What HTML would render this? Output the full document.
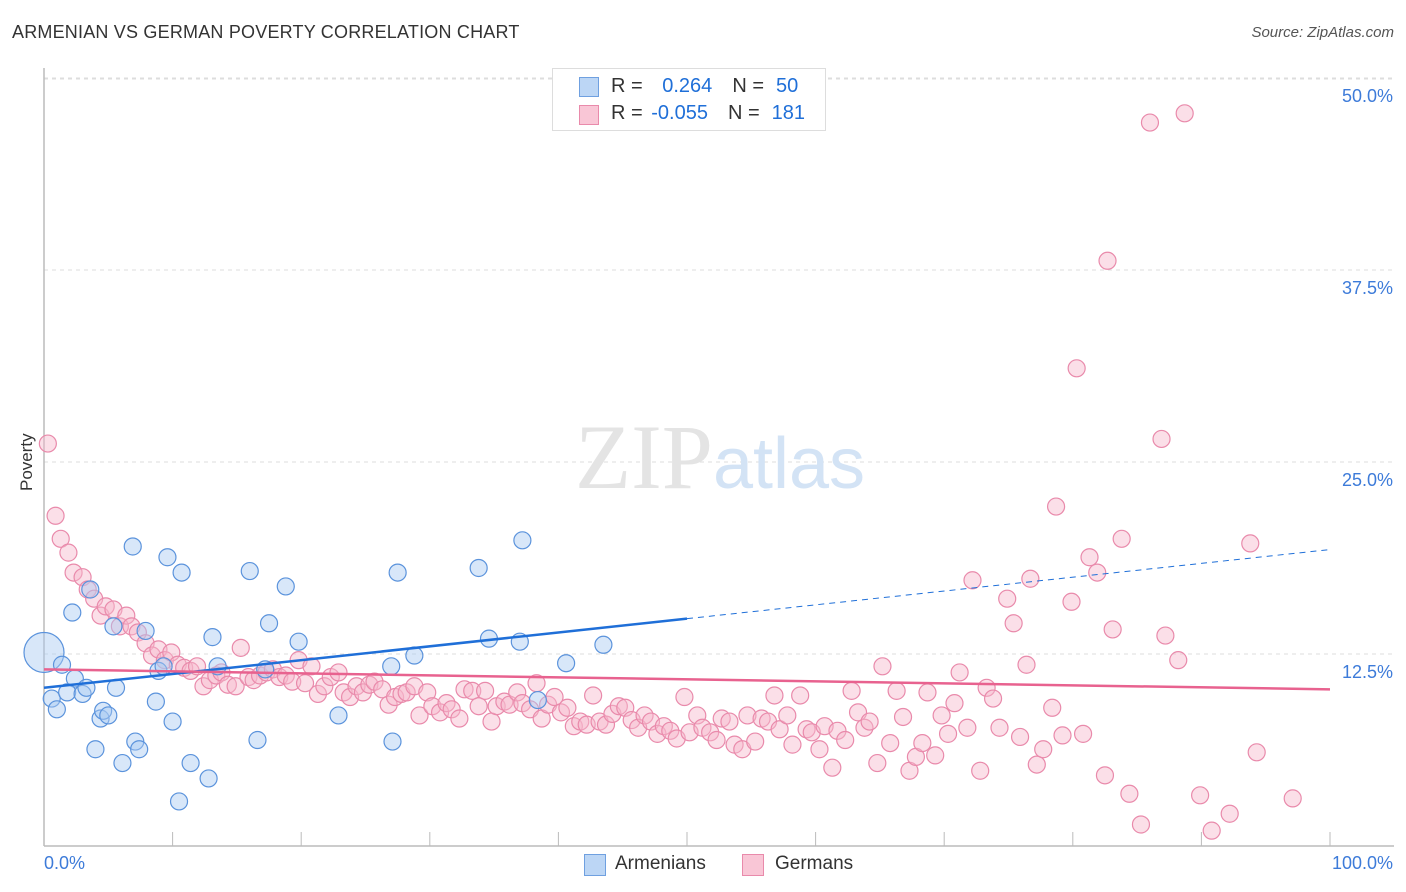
<!DOCTYPE html>
<html><head><meta charset="utf-8"><style>
body{margin:0;background:#fff;font-family:"Liberation Sans",sans-serif;}
#wrap{position:relative;width:1406px;height:892px;overflow:hidden;}
.t{position:absolute;white-space:nowrap;}
</style></head><body>
<div id="wrap">
<div class="t" style="left:12px;top:22px;font-size:18px;color:#333;letter-spacing:0.2px">ARMENIAN VS GERMAN POVERTY CORRELATION CHART</div>
<div class="t" style="right:12px;top:24px;font-size:15px;color:#555;font-style:italic">Source: ZipAtlas.com</div>
<svg id="chart" width="1406" height="892" style="position:absolute;left:0;top:0"></svg>
</div>
<script>
const xTicks=[0,10,20,30,40,50,60,70,80,90,100];
const yTicks=[12.5,25,37.5,50];
const armX=[0,0.6,1.0,1.4,2.2,2.4,1.8,3.0,3.3,3.6,4.0,4.4,4.6,5.0,5.4,5.6,6.1,6.9,7.1,7.4,7.9,8.7,8.9,9.3,9.6,10.0,10.5,10.7,11.4,12.8,13.1,13.5,16.0,16.6,17.5,18.8,19.8,22.9,27.0,27.1,27.5,28.8,33.8,34.6,37.0,37.2,40.6,43.5,38.4,17.2];
const armY=[12.6,9.6,8.9,11.8,15.2,10.9,10.0,9.9,10.3,16.7,6.3,8.3,8.8,8.5,14.3,10.3,5.4,19.5,6.8,6.3,14.0,9.4,11.4,11.7,18.8,8.1,2.9,17.8,5.4,4.4,13.6,11.7,17.9,6.9,14.5,16.9,13.3,8.5,11.7,6.8,17.8,12.4,18.1,13.5,13.3,19.9,11.9,13.1,9.5,11.5];
const gerX=[0.3,0.9,1.3,1.9,2.3,3.0,3.4,3.9,4.4,4.8,5.4,5.9,6.4,6.8,7.3,7.9,8.4,8.9,9.4,9.9,10.4,10.9,11.4,11.9,12.4,12.9,13.4,13.8,14.3,14.9,15.3,15.9,16.3,16.8,17.3,17.8,18.3,18.8,19.3,19.8,20.3,20.8,21.3,21.8,22.3,22.9,23.3,23.8,24.3,24.8,25.3,25.7,26.3,26.8,27.3,27.8,28.2,28.8,29.2,29.8,30.2,30.8,31.3,31.7,32.3,32.7,33.3,33.8,34.3,34.8,35.2,35.8,36.2,36.8,37.2,37.8,38.3,38.7,39.2,39.7,40.2,40.7,41.2,41.7,42.2,42.7,43.2,43.7,44.2,44.7,45.2,45.7,46.2,46.7,47.2,47.7,48.2,48.7,49.2,49.8,50.2,50.8,51.2,51.8,52.3,52.7,53.3,53.7,54.3,54.7,55.3,55.8,56.3,56.8,57.2,57.8,58.2,58.8,59.3,59.7,60.3,60.7,61.3,61.7,62.3,62.8,63.3,63.8,64.2,64.8,65.2,65.8,66.3,66.8,67.3,67.8,68.3,68.7,69.3,69.8,70.3,70.8,71.2,71.8,72.2,72.8,73.3,73.8,74.3,74.9,75.4,75.9,76.4,76.7,77.2,77.7,78.4,78.7,79.2,79.9,80.3,80.8,81.3,81.9,82.5,82.7,83.1,83.8,84.4,85.3,86.0,86.9,87.2,88.2,88.7,89.9,90.8,92.2,93.8,94.3,97.1];
const gerY=[26.2,21.5,20.0,19.1,17.8,17.5,16.7,16.1,15.0,15.6,15.4,14.3,15.0,14.3,13.9,13.2,12.4,12.8,12.1,12.6,11.8,11.6,11.4,11.7,10.4,10.8,11.1,11.3,10.5,10.4,12.9,11.0,10.8,11.1,11.3,11.5,11.0,11.1,10.7,12.1,10.6,11.7,9.9,10.4,11.0,11.3,10.0,9.7,10.4,10.0,10.5,10.7,10.2,9.2,9.7,9.9,10.0,10.4,8.5,10.0,9.1,8.7,9.3,8.9,8.3,10.2,10.1,9.1,10.1,8.1,9.1,9.4,9.2,10.0,9.3,8.9,10.6,8.3,9.2,9.7,8.7,9.0,7.8,8.1,7.9,9.8,8.1,7.9,8.6,9.1,9.0,8.2,7.7,8.5,8.1,7.3,7.8,7.5,7.0,9.7,7.4,8.5,7.7,7.4,6.9,8.3,8.1,6.6,6.3,8.5,6.8,8.3,8.1,9.8,7.6,8.5,6.6,9.8,7.6,7.4,6.3,7.8,5.1,7.5,6.9,10.1,8.7,7.7,8.1,5.4,11.7,6.7,10.1,8.4,4.9,5.8,6.7,10.0,5.9,8.5,7.3,9.3,11.3,7.7,17.3,4.9,10.3,9.6,7.7,16.1,14.5,7.1,11.8,17.4,5.3,6.3,9.0,22.1,7.2,15.9,31.1,7.3,18.8,17.8,4.6,38.1,14.1,20.0,3.4,1.4,47.1,26.5,13.7,12.1,47.7,3.3,1.0,2.1,19.7,6.1,3.1];
const armTrend=[10.3,19.3];
const gerTrend=[11.5,10.2];
const NS='http://www.w3.org/2000/svg';
const svg=document.getElementById('chart');
const X0=44,X1=1330,Y0=846,YS=15.36;
const sx=v=>X0+v*(X1-X0)/100;
const sy=v=>Y0-v*YS;
function mk(tag,attrs,parent){const e=document.createElementNS(NS,tag);for(const k in attrs)e.setAttribute(k,attrs[k]);(parent||svg).appendChild(e);return e;}
// gridlines
yTicks.forEach(t=>{
 const l=mk('line',{x1:X0,x2:1394,y1:sy(t),y2:sy(t),stroke:'#ddd','stroke-dasharray':'4,4'});
 
 
 const tx=mk('text',{x:1393,y:sy(t)+24,'text-anchor':'end','font-size':18,fill:'#3d7bd9','font-family':'Liberation Sans'});
 tx.textContent=t.toFixed(1)+'%';
 
 
});
mk('line',{x1:X0,x2:1394,y1:79,y2:79,stroke:'#ddd','stroke-dasharray':'4,4'});
// axes
const ya=mk('line',{x1:X0,x2:X0,y1:68,y2:846,stroke:'#bbb','stroke-width':1.5});


const xa=mk('line',{x1:X0,x2:1394,y1:846,y2:846,stroke:'#bbb','stroke-width':1.5});


xTicks.forEach(t=>{const l=mk('line',{x1:sx(t),x2:sx(t),y1:832,y2:846,stroke:'#bbb'});
 
 });
// watermark
const wm=mk('text',{x:720,y:488,'text-anchor':'middle','font-size':92,fill:'#e4e4e4','font-family':'Liberation Serif'});
wm.innerHTML='ZIP<tspan fill="#d3e3f5" font-family="Liberation Sans" font-size="72">atlas</tspan>';


// points
function pts(xs,ys,fill,stroke,name){xs.forEach((v,i)=>{
 const c=mk('circle',{cx:sx(v),cy:sy(ys[i]),r:(name==='armenian-point'&&i===0)?20:8.5,fill:fill,'fill-opacity':0.45,stroke:stroke,'stroke-width':1.2});
 
 
});}
pts(gerX,gerY,'#f7b8cc','#e98aab','german-point');
pts(armX,armY,'#a9c9f1','#5b93dc','armenian-point');
// trends
const b1=mk('line',{x1:sx(0),y1:sy(armTrend[0]),x2:sx(50),y2:sy(armTrend[0]+(armTrend[1]-armTrend[0])/2),stroke:'#1f6fd8','stroke-width':2.5});


const b2=mk('line',{x1:sx(50),y1:sy(armTrend[0]+(armTrend[1]-armTrend[0])/2),x2:sx(100),y2:sy(armTrend[1]),stroke:'#1f6fd8','stroke-width':1,'stroke-dasharray':'6,5'});


const p1=mk('line',{x1:sx(0),y1:sy(gerTrend[0]),x2:sx(100),y2:sy(gerTrend[1]),stroke:'#e8628f','stroke-width':2.5});


</script>
<div class="t" style="left:44px;top:853px;font-size:18px;color:#3d7bd9">0.0%</div>
<div class="t" style="right:13px;top:853px;font-size:18px;color:#3d7bd9">100.0%</div>
<div class="t" style="left:6px;top:456px;font-size:17px;color:#333;transform:rotate(-90deg);transform-origin:left top;"><span style="position:relative;left:-35px;top:11px">Poverty</span></div>
<div style="position:absolute;left:552px;top:68px;width:272px;height:61px;border:1px solid #ddd;background:#fff;font-size:20px">
 <div style="position:absolute;left:26px;top:8px;width:18px;height:18px;background:#bcd6f5;border:1px solid #6fa0e0"></div>
 <div class="t" style="left:58px;top:6px;color:#333">R = <span style="color:#1f6fd8;margin-left:14px">0.264</span><span style="margin-left:20px">N =</span><span style="color:#1f6fd8;margin-left:12px">50</span></div>
 <div style="position:absolute;left:26px;top:36px;width:18px;height:18px;background:#f9c6d6;border:1px solid #e98aab"></div>
 <div class="t" style="left:58px;top:33px;color:#333">R = <span style="color:#1f6fd8;margin-left:3px">-0.055</span><span style="margin-left:20px">N =</span><span style="color:#1f6fd8;margin-left:12px">181</span></div>
</div>
<div style="position:absolute;left:584px;top:854px;width:20px;height:20px;background:#bcd6f5;border:1px solid #6fa0e0"></div>
<div class="t" style="left:615px;top:853px;font-size:19px;color:#333">Armenians</div>
<div style="position:absolute;left:742px;top:854px;width:20px;height:20px;background:#f9c6d6;border:1px solid #e98aab"></div>
<div class="t" style="left:775px;top:853px;font-size:19px;color:#333">Germans</div>
</body></html>
